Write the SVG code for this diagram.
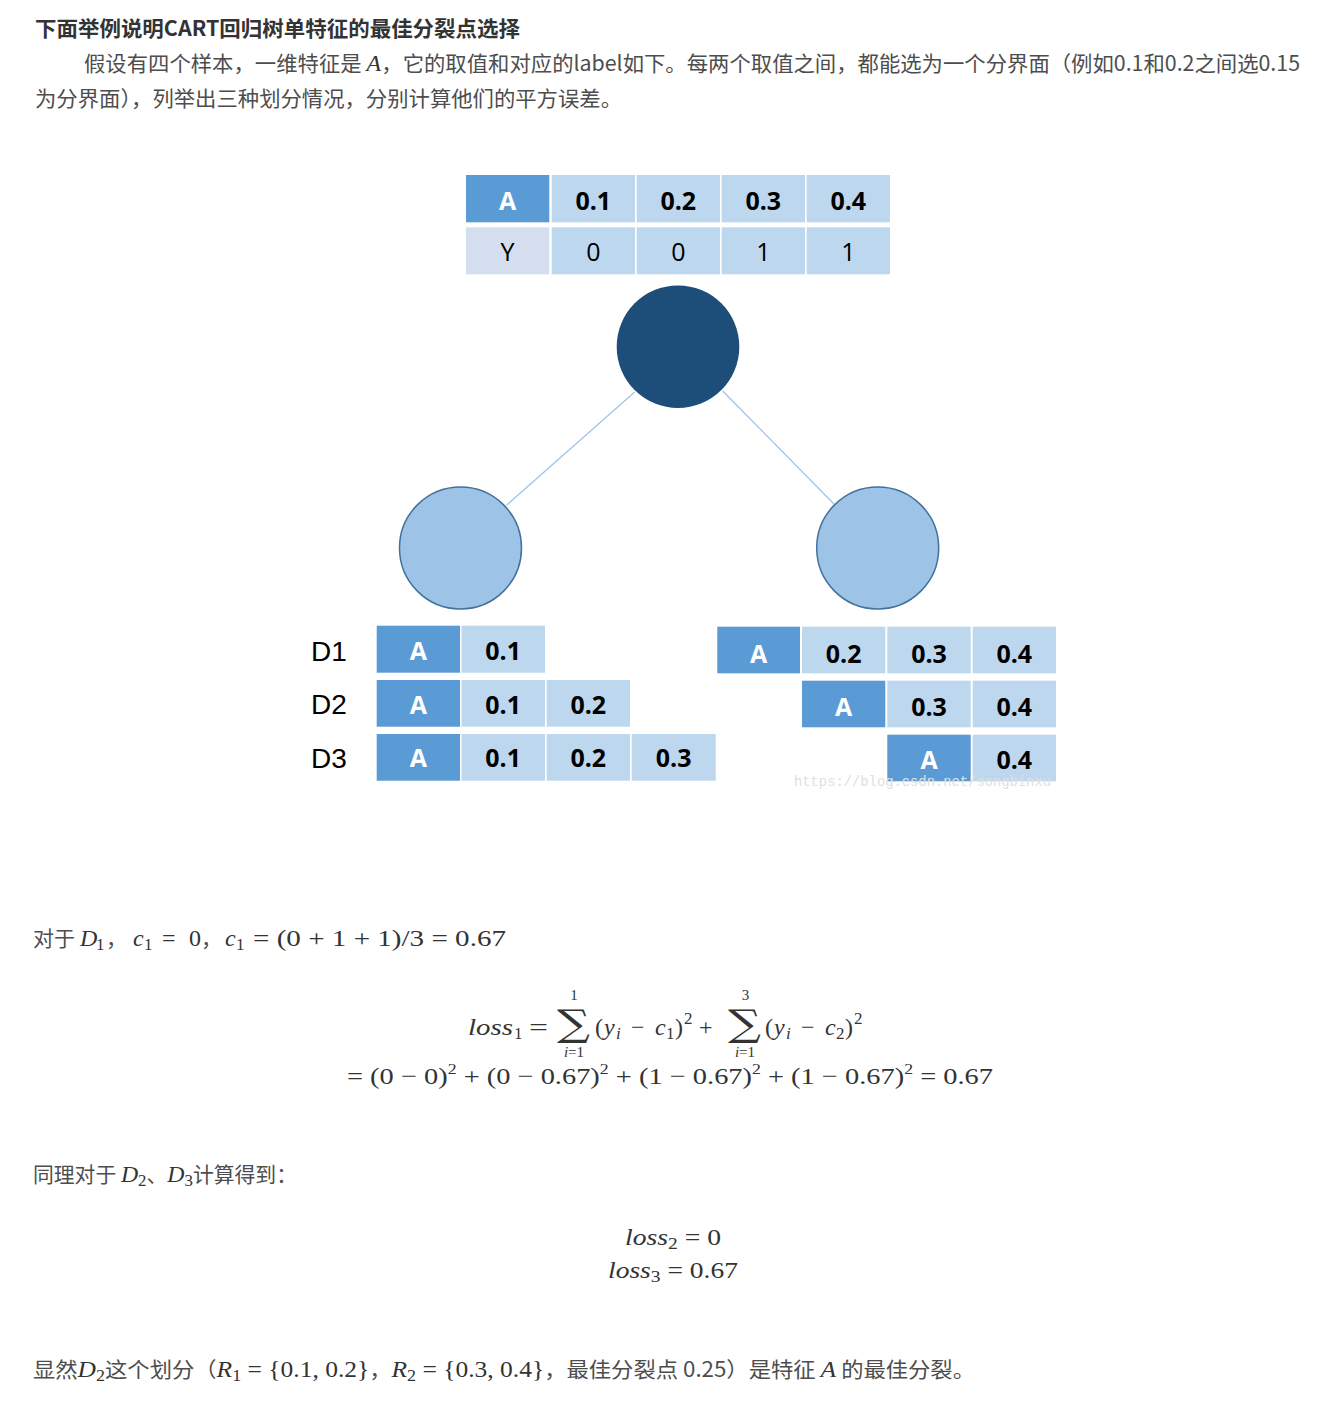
<svg xmlns="http://www.w3.org/2000/svg" width="1326" height="1406" viewBox="0 0 1326 1406">
<style>
.cj{font-family:"Noto Sans CJK SC","Noto Sans",sans-serif;font-size:21px;fill:#4d4d4d}
.tt{font-family:"Noto Sans CJK SC","Noto Sans",sans-serif;font-size:21px;font-weight:bold;fill:#333}
.m{font-family:"Liberation Serif","DejaVu Serif",serif;font-size:24px;fill:#333}
.mi{font-style:italic}
.sm{font-size:17px}
.xs{font-size:15px}
.sig{font-family:"DejaVu Serif",serif;font-size:37px;fill:#333}
.cd{fill:#5B9BD5}
.cl{fill:#BDD7EE}
.cy{fill:#D4DEEE}
.tw{font-family:"Open Sans","Liberation Sans",sans-serif;font-size:25px;font-weight:bold;fill:#fff;text-anchor:middle}
.tb{font-family:"Open Sans","Liberation Sans",sans-serif;font-size:25px;font-weight:bold;fill:#000;text-anchor:middle}
.tr{font-family:"Open Sans","Liberation Sans",sans-serif;font-size:25px;fill:#000;text-anchor:middle}
.dl{font-family:"Liberation Sans",Arial,sans-serif;font-size:28px;fill:#000}
.conn{stroke:#9DC3E6;stroke-width:1.2;fill:none}
.child{fill:#9DC3E6;stroke:#41719C;stroke-width:1.5}
</style>
<rect width="1326" height="1406" fill="#fff"/>

<g id="intro">
<text class="tt" x="35" y="36" textLength="485" lengthAdjust="spacingAndGlyphs">下面举例说明CART回归树单特征的最佳分裂点选择</text>
<text class="cj" x="84" y="71" textLength="1216" lengthAdjust="spacingAndGlyphs">假设有四个样本，一维特征是 <tspan class="m mi">A</tspan>，它的取值和对应的label如下。每两个取值之间，都能选为一个分界面（例如0.1和0.2之间选0.15</text>
<text class="cj" x="35" y="106" textLength="587" lengthAdjust="spacingAndGlyphs">为分界面），列举出三种划分情况，分别计算他们的平方误差。</text>
</g>

<g id="data-table">
<rect class="cd" x="466" y="175" width="83.3" height="47.3"/>
<rect class="cl" x="551.7" y="175" width="83.3" height="47.3"/>
<rect class="cl" x="636.7" y="175" width="83.3" height="47.3"/>
<rect class="cl" x="721.7" y="175" width="83.3" height="47.3"/>
<rect class="cl" x="806.7" y="175" width="83.3" height="47.3"/>
<rect class="cy" x="466" y="227.3" width="83.3" height="47"/>
<rect class="cl" x="551.7" y="227.3" width="83.3" height="47"/>
<rect class="cl" x="636.7" y="227.3" width="83.3" height="47"/>
<rect class="cl" x="721.7" y="227.3" width="83.3" height="47"/>
<rect class="cl" x="806.7" y="227.3" width="83.3" height="47"/>
<text class="tw" x="507.6" y="210">A</text>
<text class="tb" x="593.3" y="210">0.1</text>
<text class="tb" x="678.3" y="210">0.2</text>
<text class="tb" x="763.3" y="210">0.3</text>
<text class="tb" x="848.3" y="210">0.4</text>
<text class="tr" x="507.6" y="261">Y</text>
<text class="tr" x="593.3" y="261">0</text>
<text class="tr" x="678.3" y="261">0</text>
<text class="tr" x="763.3" y="261">1</text>
<text class="tr" x="848.3" y="261">1</text>
</g>

<g id="connectors">
<line class="conn" x1="635" y1="391.7" x2="506.7" y2="505"/>
<line class="conn" x1="722.7" y1="391" x2="834" y2="504"/>
</g>

<g id="root">
<circle cx="678" cy="346.7" r="61.3" fill="#1C4E79"/>
</g>
<g id="left-child">
<circle class="child" cx="460.5" cy="548" r="61"/>
</g>
<g id="right-child">
<circle class="child" cx="877.7" cy="548" r="61"/>
</g>

<g id="left-splits">
<text class="dl" x="311" y="661">D1</text>
<text class="dl" x="311" y="714">D2</text>
<text class="dl" x="311" y="768">D3</text>
<rect class="cd" x="376.7" y="625.7" width="83.3" height="47"/>
<rect class="cl" x="461.5" y="625.7" width="83.5" height="47"/>
<rect class="cd" x="376.7" y="680" width="83.3" height="46.7"/>
<rect class="cl" x="461.5" y="680" width="83.5" height="46.7"/>
<rect class="cl" x="546.7" y="680" width="83.3" height="46.7"/>
<rect class="cd" x="376.7" y="734" width="83.3" height="46.7"/>
<rect class="cl" x="461.5" y="734" width="83.5" height="46.7"/>
<rect class="cl" x="546.7" y="734" width="83.3" height="46.7"/>
<rect class="cl" x="631.7" y="734" width="84" height="46.7"/>
<text class="tw" x="418.3" y="660">A</text>
<text class="tb" x="503.2" y="660">0.1</text>
<text class="tw" x="418.3" y="714">A</text>
<text class="tb" x="503.2" y="714">0.1</text>
<text class="tb" x="588.3" y="714">0.2</text>
<text class="tw" x="418.3" y="767">A</text>
<text class="tb" x="503.2" y="767">0.1</text>
<text class="tb" x="588.3" y="767">0.2</text>
<text class="tb" x="673.7" y="767">0.3</text>
</g>

<g id="right-splits">
<rect class="cd" x="717.3" y="626.7" width="82.7" height="46.6"/>
<rect class="cl" x="802" y="626.7" width="83.3" height="46.6"/>
<rect class="cl" x="887.3" y="626.7" width="83.4" height="46.6"/>
<rect class="cl" x="972.7" y="626.7" width="83.3" height="46.6"/>
<rect class="cd" x="802" y="680.7" width="83.3" height="46.6"/>
<rect class="cl" x="887.3" y="680.7" width="83.4" height="46.6"/>
<rect class="cl" x="972.7" y="680.7" width="83.3" height="46.6"/>
<rect class="cd" x="887.3" y="734.7" width="83.4" height="46.6"/>
<rect class="cl" x="972.7" y="734.7" width="83.3" height="46.6"/>
<text class="tw" x="758.7" y="662.5">A</text>
<text class="tb" x="843.7" y="662.5">0.2</text>
<text class="tb" x="929" y="662.5">0.3</text>
<text class="tb" x="1014.3" y="662.5">0.4</text>
<text class="tw" x="843.7" y="715.5">A</text>
<text class="tb" x="929" y="715.5">0.3</text>
<text class="tb" x="1014.3" y="715.5">0.4</text>
<text class="tw" x="929" y="769">A</text>
<text class="tb" x="1014.3" y="769">0.4</text>
</g>

<text x="794" y="786" font-family="'Liberation Mono',monospace" font-size="14" fill="#e0e0e0" textLength="257" lengthAdjust="spacingAndGlyphs">https://blog.csdn.net/songbinxu</text>

<g id="calc-d1">
<text class="cj" x="33" y="946">对于</text>
<text class="m" y="946"><tspan class="mi" x="80">D</tspan><tspan class="sm" x="96" dy="4">1</tspan></text>
<text class="cj" x="106" y="946">，</text>
<text class="m" y="946"><tspan class="mi" x="133">c</tspan><tspan class="sm" x="144" dy="4">1</tspan><tspan x="162" dy="-4">=</tspan><tspan x="189">0</tspan></text>
<text class="cj" x="201" y="946">，</text>
<text class="m" y="946"><tspan class="mi" x="225">c</tspan><tspan class="sm" x="236" dy="4">1</tspan><tspan x="253" dy="-4" textLength="253" lengthAdjust="spacingAndGlyphs">= (0 + 1 + 1)/3 = 0.67</tspan></text>
</g>

<g id="loss1">
<text class="m mi" x="468" y="1035" textLength="45" lengthAdjust="spacingAndGlyphs">loss</text>
<text class="m sm" x="514" y="1039">1</text>
<text class="m" x="529" y="1035" textLength="19" lengthAdjust="spacingAndGlyphs">=</text>
<text class="sig" transform="translate(557,1036) scale(1.25,1)" x="0" y="0">∑</text>
<text class="m xs" x="574" y="1000" text-anchor="middle">1</text>
<text class="m xs" x="574" y="1057" text-anchor="middle"><tspan class="mi">i</tspan>=1</text>
<text class="m" y="1035"><tspan x="595">(</tspan><tspan class="mi" x="604">y</tspan><tspan class="mi sm" x="616" dy="4">i</tspan><tspan x="631" dy="-4">−</tspan><tspan class="mi" x="655">c</tspan><tspan class="sm" x="666" dy="4">1</tspan><tspan x="675" dy="-4">)</tspan><tspan class="sm" x="684" dy="-11">2</tspan><tspan x="699" dy="11">+</tspan></text>
<text class="sig" transform="translate(728,1036) scale(1.25,1)" x="0" y="0">∑</text>
<text class="m xs" x="745.5" y="1000" text-anchor="middle">3</text>
<text class="m xs" x="745" y="1057" text-anchor="middle"><tspan class="mi">i</tspan>=1</text>
<text class="m" y="1035"><tspan x="765">(</tspan><tspan class="mi" x="774">y</tspan><tspan class="mi sm" x="786" dy="4">i</tspan><tspan x="801" dy="-4">−</tspan><tspan class="mi" x="825">c</tspan><tspan class="sm" x="836" dy="4">2</tspan><tspan x="845" dy="-4">)</tspan><tspan class="sm" x="854" dy="-11">2</tspan></text>
<text class="m" x="347" y="1084" textLength="646" lengthAdjust="spacingAndGlyphs">= (0 − 0)<tspan class="xs" dy="-10">2</tspan><tspan dy="10"> + (0 − 0.67)</tspan><tspan class="xs" dy="-10">2</tspan><tspan dy="10"> + (1 − 0.67)</tspan><tspan class="xs" dy="-10">2</tspan><tspan dy="10"> + (1 − 0.67)</tspan><tspan class="xs" dy="-10">2</tspan><tspan dy="10"> = 0.67</tspan></text>
</g>

<g id="calc-d2d3">
<text class="cj" x="33" y="1182" textLength="264" lengthAdjust="spacingAndGlyphs">同理对于 <tspan class="m mi">D</tspan><tspan class="m sm" dy="4">2</tspan><tspan dy="-4">、</tspan><tspan class="m mi">D</tspan><tspan class="m sm" dy="4">3</tspan><tspan dy="-4">计算得到：</tspan></text>
<text class="m" x="625" y="1245" textLength="96" lengthAdjust="spacingAndGlyphs"><tspan class="mi">loss</tspan><tspan class="sm" dy="4">2</tspan><tspan dy="-4"> = 0</tspan></text>
<text class="m" x="608" y="1278" textLength="130" lengthAdjust="spacingAndGlyphs"><tspan class="mi">loss</tspan><tspan class="sm" dy="4">3</tspan><tspan dy="-4"> = 0.67</tspan></text>
</g>

<g id="conclusion">
<text class="cj" x="33" y="1377" textLength="942" lengthAdjust="spacingAndGlyphs">显然<tspan class="m mi">D</tspan><tspan class="m sm" dy="4">2</tspan><tspan dy="-4">这个划分（</tspan><tspan class="m mi">R</tspan><tspan class="m sm" dy="4">1</tspan><tspan class="m" dy="-4"> = {0.1, 0.2}</tspan>，<tspan class="m mi">R</tspan><tspan class="m sm" dy="4">2</tspan><tspan class="m" dy="-4"> = {0.3, 0.4}</tspan>，最佳分裂点 0.25）是特征 <tspan class="m mi">A</tspan> 的最佳分裂。</text>
</g>
</svg>
